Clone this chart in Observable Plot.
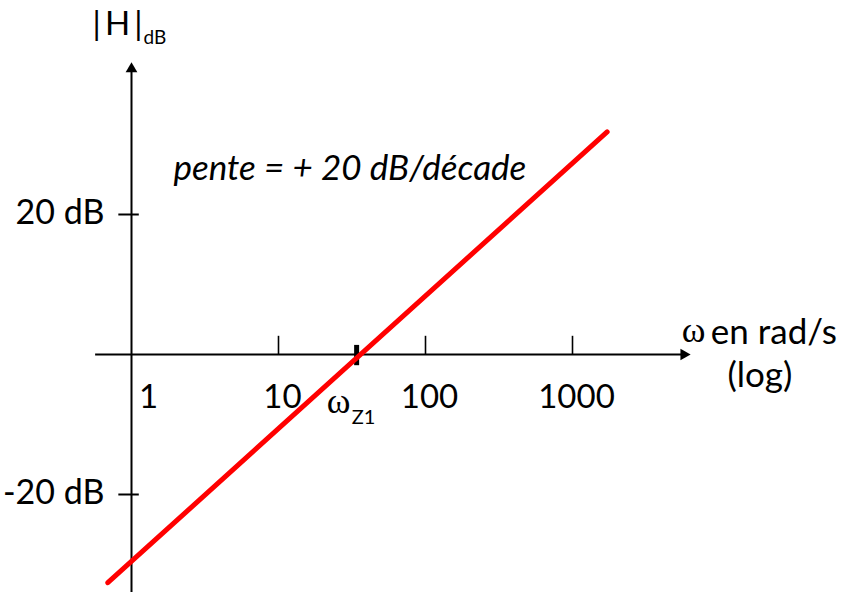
<!DOCTYPE html>
<html>
<head>
<meta charset="utf-8">
<script src="https://cdn.jsdelivr.net/npm/d3@7"></script>
<script src="https://cdn.jsdelivr.net/npm/@observablehq/plot@0.6"></script>
<style>
  html, body { margin: 0; padding: 0; background: #fff; }
  #chart svg { display: block; }
</style>
</head>
<body>
<div id="chart"></div>
<script>
// Bode magnitude asymptote of a first-order zero: +20 dB/decade through ωZ1.
const decadeTicks = [10, 100, 1000];            // rad/s
const decadeLabels = ["10", "100", "1000"];
const dbTicks = [20, -20];                       // dB
const dbLabels = ["20 dB", "-20 dB"];
const omegaZ1 = 34;                              // rad/s, break frequency
const asymptoteOmega = [0.69, 1720];             // rad/s, segment ends
const asymptoteDb = [-32.6, 31.8];               // dB, segment ends

// Axis extents (data units)
const xAxisOmega = [0.57, 5720];
const yAxisDb = [-34, 40.8];

const asymptote = asymptoteOmega.map((w, i) => ({w, db: asymptoteDb[i]}));
const decades = decadeTicks.map((w, i) => ({w, label: decadeLabels[i]}));
const dbs = dbTicks.map((db, i) => ({db, label: dbLabels[i]}));

const sans = "Lato, 'Open Sans', sans-serif";
const serif = "'Liberation Serif', 'DejaVu Serif', serif";
const xEnd = {w: xAxisOmega[1], db: 0};          // tip of the ω axis
const yEnd = {w: 1, db: yAxisDb[1]};             // tip of the |H| axis

const chart = Plot.plot({
  width: 842,
  height: 593,
  margin: 0,
  style: {fontFamily: sans, background: "#fff", color: "#000"},
  x: {type: "log", domain: [1, 1000], range: [131, 572], axis: null},
  y: {domain: [-20, 20], range: [494, 214], axis: null},
  marks: [
    // axes with filled arrowheads
    Plot.ruleY([0], {x1: xAxisOmega[0], x2: xAxisOmega[1], stroke: "#000", strokeWidth: 2}),
    Plot.ruleX([1], {y1: yAxisDb[0], y2: yAxisDb[1], stroke: "#000", strokeWidth: 2}),
    Plot.dot([xEnd], {x: "w", y: "db", symbol: "triangle2", r: 5.6, rotate: 90, fill: "#000", stroke: "none"}),
    Plot.dot([yEnd], {x: "w", y: "db", symbol: "triangle2", r: 5.6, fill: "#000", stroke: "none"}),
    // decade ticks (drawn above the axis)
    Plot.ruleX(decadeTicks, {y1: 0, y2: 2.6, stroke: "#000", strokeWidth: 1.6}),
    // dB ticks
    Plot.ruleY(dbTicks, {x1: 0.82, x2: 1.13, stroke: "#000", strokeWidth: 2}),
    // ωZ1 marker
    Plot.ruleX([omegaZ1], {y1: -1.6, y2: 1.3, stroke: "#000", strokeWidth: 5}),
    // asymptote
    Plot.line(asymptote, {x: "w", y: "db", stroke: "#ff0000", strokeWidth: 5}),
    // tick labels
    Plot.text([{w: 1, label: "1"}], {x: "w", y: () => 0, text: "label", dx: 17, dy: 43, fontSize: 33, fill: "#000"}),
    Plot.text(decades, {x: "w", y: () => 0, text: "label", dx: 4, dy: 43, fontSize: 33, fill: "#000"}),
    Plot.text(dbs, {x: () => 1, y: "db", text: "label", dx: -27, dy: -1, textAnchor: "end", fontSize: 34, fill: "#000"}),
    // ωZ1 label
    Plot.text([{w: omegaZ1}], {x: "w", y: () => 0, text: () => "ω", dx: -30, dy: 47, textAnchor: "start", fontSize: 36, fontFamily: serif, fill: "#000"}),
    Plot.text([{w: omegaZ1}], {x: "w", y: () => 0, text: () => "Z1", dx: -5, dy: 63, textAnchor: "start", fontSize: 20, fill: "#000"}),
    // ω axis title
    Plot.text([xEnd], {x: "w", y: "db", text: () => "ω", dx: -2, dy: -24, textAnchor: "start", fontSize: 36, fontFamily: serif, fill: "#000"}),
    Plot.text([xEnd], {x: "w", y: "db", text: () => "en rad/s", dx: 27, dy: -22, textAnchor: "start", fontSize: 35, fill: "#000"}),
    Plot.text([xEnd], {x: "w", y: "db", text: () => "(log)", dx: 76, dy: 21, fontSize: 35, fill: "#000"}),
    // |H| axis title
    Plot.text([yEnd], {x: "w", y: "db", text: () => "|\u2009H\u2009|", dx: -39, dy: -44, textAnchor: "start", fontSize: 33, fill: "#000"}),
    Plot.text([yEnd], {x: "w", y: "db", text: () => "dB", dx: 12, dy: -31, textAnchor: "start", fontSize: 19, fill: "#000"}),
    // slope annotation
    Plot.text([{w: 1, db: 20}], {x: "w", y: "db", text: () => "pente = + 20 dB/décade", dx: 42, dy: -46, textAnchor: "start", fontSize: 35, fontStyle: "italic", fill: "#000"})
  ]
});
document.getElementById("chart").appendChild(chart);
</script>
</body>
</html>
